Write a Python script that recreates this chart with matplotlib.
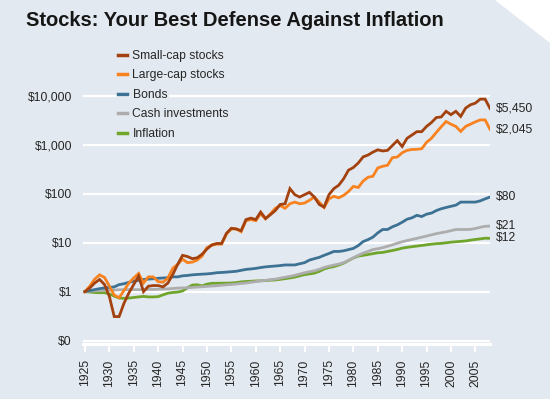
import matplotlib.pyplot as plt
from matplotlib.patches import Polygon
from matplotlib.ticker import NullLocator

# Годы и значения (рост $1, вложенного в 1925)
years = list(range(1925, 2009))

small_cap = [1.0, 1.19, 1.5, 1.77, 1.4, 0.8, 0.31, 0.31, 0.58, 0.94,
             1.4, 2.07, 1.0, 1.29, 1.33, 1.33, 1.25, 1.5, 2.24, 3.6,
             5.5, 5.2, 4.7, 4.9, 5.8, 7.4, 9.0, 9.6, 9.6, 15.5,
             19.6, 19.0, 17.5, 29.5, 31.6, 29.5, 42, 31, 37, 45,
             60, 62, 126, 95, 85, 95, 106, 85, 60, 53,
             95, 126, 148, 200, 300, 340, 420, 560, 610, 700,
             780, 740, 760, 955, 1200, 910, 1340, 1560, 1830, 1830,
             2340, 2810, 3550, 3650, 4760, 4070, 4760, 3750, 5530, 6470,
             6990, 8430, 8430, 5450]

large_cap = [1.0, 1.3, 1.8, 2.2, 1.95, 1.3, 0.85, 0.75, 1.05, 1.5,
             1.9, 2.35, 1.5, 2.0, 2.0, 1.6, 1.56, 1.9, 3.0, 3.6,
             4.6, 3.9, 4.0, 4.4, 5.3, 7.9, 8.8, 9.3, 9.3, 15,
             19, 19, 16.7, 28, 29.5, 28, 38.7, 30.5, 38.7, 50,
             57, 50, 62, 67, 62, 64, 73, 85, 67, 52,
             78, 88, 82, 92, 110, 140, 133, 180, 215, 225,
             333, 360, 378, 540, 556, 680, 760, 793, 800, 820,
             1110, 1340, 1770, 2300, 2950, 2600, 2340, 1850, 2340, 2600,
             2900, 3180, 3180, 2045]

bonds = [1.0, 1.05, 1.1, 1.15, 1.19, 1.22, 1.25, 1.39, 1.45, 1.55,
         1.63, 1.7, 1.77, 1.8, 1.83, 1.87, 1.9, 1.92, 2.0, 2.0,
         2.1, 2.14, 2.2, 2.24, 2.27, 2.3, 2.35, 2.43, 2.46, 2.5,
         2.55, 2.6, 2.72, 2.84, 2.9, 2.98, 3.1, 3.2, 3.27, 3.33,
         3.4, 3.5, 3.5, 3.5, 3.7, 3.9, 4.4, 4.7, 5.0, 5.5,
         6.0, 6.6, 6.6, 6.8, 7.2, 7.6, 8.7, 10.5, 11.5, 12.9,
         15.8, 18.5, 18.5, 21, 23, 26, 30, 32, 36, 34,
         38, 40, 45, 49, 52, 55, 58, 67, 67, 67,
         67, 71, 78, 85]

cash = [1.0, 1.02, 1.04, 1.05, 1.06, 1.07, 1.08, 1.09, 1.1, 1.1,
        1.1, 1.1, 1.1, 1.11, 1.11, 1.12, 1.13, 1.14, 1.16, 1.18,
        1.19, 1.2, 1.22, 1.24, 1.26, 1.28, 1.3, 1.32, 1.35, 1.38,
        1.4, 1.43, 1.47, 1.5, 1.55, 1.6, 1.66, 1.7, 1.75, 1.8,
        1.88, 1.96, 2.05, 2.15, 2.28, 2.42, 2.55, 2.65, 2.85, 3.1,
        3.3, 3.48, 3.65, 3.9, 4.35, 4.9, 5.5, 6.1, 6.6, 7.2,
        7.5, 7.9, 8.4, 9.0, 9.7, 10.4, 11.0, 11.6, 12.2, 12.9,
        13.6, 14.4, 15.2, 15.9, 16.6, 17.5, 18.5, 18.5, 18.5, 18.6,
        19.4, 20.5, 21.5, 21.7]

inflation = [1.0, 0.98, 0.96, 0.95, 0.95, 0.9, 0.81, 0.74, 0.73, 0.74,
             0.76, 0.78, 0.8, 0.78, 0.78, 0.79, 0.86, 0.93, 0.96, 0.98,
             1.03, 1.2, 1.36, 1.38, 1.31, 1.42, 1.48, 1.48, 1.49, 1.49,
             1.5, 1.53, 1.58, 1.61, 1.63, 1.65, 1.66, 1.68, 1.71, 1.73,
             1.78, 1.84, 1.9, 1.98, 2.1, 2.22, 2.3, 2.38, 2.58, 2.9,
             3.1, 3.25, 3.48, 3.8, 4.3, 4.85, 5.3, 5.5, 5.72, 5.95,
             6.2, 6.3, 6.6, 6.9, 7.25, 7.7, 8.0, 8.25, 8.5, 8.75,
             9.0, 9.3, 9.5, 9.65, 9.9, 10.2, 10.4, 10.6, 10.8, 11.2,
             11.6, 11.9, 12.3, 12.2]

series_names = ['Small-cap stocks', 'Large-cap stocks', 'Bonds',
                'Cash investments', 'Inflation']
end_labels = ['$5,450', '$2,045', '$80', '$21', '$12']
y_ticks = [0.1, 1, 10, 100, 1000, 10000]
y_tick_labels = ['$0', '$1', '$10', '$100', '$1,000', '$10,000']
x_ticks = list(range(1925, 2006, 5))

title = 'Stocks: Your Best Defense Against Inflation'

# Стиль
bg = '#e3e9f0'
text_color = '#262626'
colors = ['#a3420f', '#f7821f', '#3d7294', '#adadad', '#70a52c']
font = 'Liberation Sans'
plt.rcParams['font.family'] = [font, 'DejaVu Sans']

W, H = 550, 399
fig = plt.figure(figsize=(W / 100, H / 100), dpi=100)
fig.patch.set_facecolor(bg)

# Загнутый уголок справа сверху
fig.add_artist(Polygon([(495 / W, 1), (1, 1), (1, 1 - 43 / H)],
                       closed=True, transform=fig.transFigure,
                       facecolor='white', edgecolor='none'))

fig.text(26 / W, 1 - 26 / H, title, fontsize=14.5, fontweight='bold',
         color='#161616', va='baseline', ha='left')

ax = fig.add_axes([83 / W, 1 - 344 / H, (490 - 83) / W, (344 - 45) / H])
ax.set_facecolor(bg)
ax.set_yscale('log')
ax.set_ylim(0.0855, 10 ** 5.03)
ax.set_xlim(1924.6, 2008.0)

all_series = [small_cap, large_cap, bonds, cash, inflation]
for i, (vals, name, c) in enumerate(zip(all_series, series_names, colors)):
    ax.plot(years, vals, color=c, lw=2.0, label=name, zorder=10 - i,
            solid_joinstyle='miter')
    ax.annotate(end_labels[i], xy=(years[-1], vals[-1]), xytext=(4.5, 0),
                textcoords='offset points', va='center', ha='left',
                fontsize=8.7, color=text_color, annotation_clip=False)

ax.set_yticks(y_ticks)
ax.set_yticklabels(y_tick_labels)
ax.yaxis.set_minor_locator(NullLocator())
ax.tick_params(axis='y', length=0, pad=8, labelsize=8.7, labelcolor=text_color)

ax.set_xticks(x_ticks)
ax.set_xticklabels([str(y) for y in x_ticks], rotation=90)
ax.tick_params(axis='x', direction='out', length=6, width=1.5, color='white',
               pad=5, labelsize=8.7, labelcolor=text_color)

ax.grid(axis='y', color='white', lw=1.6, zorder=0)
ax.set_axisbelow(True)

for side in ['left', 'right', 'top']:
    ax.spines[side].set_visible(False)
ax.spines['bottom'].set_color('white')
ax.spines['bottom'].set_linewidth(2.2)

leg = ax.legend(loc='upper left', bbox_to_anchor=(118 / W, 1 - 50 / H),
                bbox_transform=fig.transFigure, frameon=False, fontsize=8.7,
                handlelength=0.75, handletextpad=0.45, labelspacing=0.62,
                borderpad=0, borderaxespad=0)
for t in leg.get_texts():
    t.set_color(text_color)
    t.set_bbox(dict(facecolor=bg, edgecolor='none', pad=1.5))
for h in leg.get_lines():
    h.set_linewidth(2.5)

fig.savefig('out.png', dpi=100, facecolor=bg)
